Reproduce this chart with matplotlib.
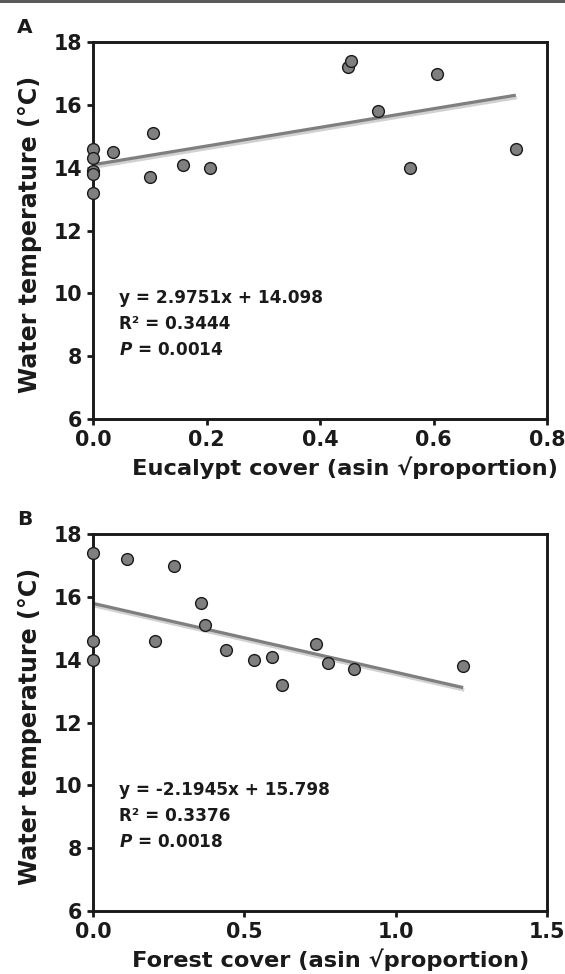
import matplotlib
matplotlib.use("Agg")

import matplotlib.pyplot as plt
import matplotlib.patheffects as pe
import numpy as np

plt.rcParams["font.family"] = ["DejaVu Sans"]
plt.rcParams["font.weight"] = "bold"
plt.rcParams["axes.labelweight"] = "bold"
plt.rcParams["mathtext.fontset"] = "custom"
plt.rcParams["mathtext.it"] = "DejaVu Sans:italic:bold"
plt.rcParams["mathtext.rm"] = "DejaVu Sans:bold"

# panel A: eucalypt cover
eu_x = [0.0, 0.0, 0.0, 0.0, 0.0, 0.036, 0.100, 0.106, 0.159, 0.206,
        0.450, 0.454, 0.503, 0.558, 0.607, 0.745]
eu_y = [14.6, 14.3, 13.9, 13.8, 13.2, 14.5, 13.7, 15.1, 14.1, 14.0,
        17.2, 17.4, 15.8, 14.0, 17.0, 14.6]
eu_fit = [2.9751, 14.098]
eu_txt = ["y = 2.9751x + 14.098", "R\u00b2 = 0.3444", "$P$ = 0.0014"]
eu_ticks = [0.0, 0.2, 0.4, 0.6, 0.8]

# panel B: forest cover
fo_x = [0.0, 0.0, 0.0, 0.113, 0.268, 0.205, 0.357, 0.369, 0.440, 0.533,
        0.592, 0.624, 0.736, 0.776, 0.862, 1.223]
fo_y = [17.4, 14.6, 14.0, 17.2, 17.0, 14.6, 15.8, 15.1, 14.3, 14.0,
        14.1, 13.2, 14.5, 13.9, 13.7, 13.8]
fo_fit = [-2.1945, 15.798]
fo_txt = ["y = -2.1945x + 15.798", "R\u00b2 = 0.3376", "$P$ = 0.0018"]
fo_ticks = [0.0, 0.5, 1.0, 1.5]

y_ticks = [6, 8, 10, 12, 14, 16, 18]

W, H = 565, 974
k = "#1a1a1a"
gr = "#7f7f7f"

fig = plt.figure(figsize=(W / 100, H / 100), dpi=100)
fig.add_artist(plt.Rectangle((0, 1 - 3 / H), 1, 3 / H, transform=fig.transFigure,
                             color="#5a5a5a", lw=0))

def panel(top, xs, ys, fit, txt, xt, xlab, letter):
    l, r, b = 93, 547, top + 376.5
    ax = fig.add_axes([l / W, 1 - b / H, (r - l) / W, (b - top) / H])

    xx = np.array([0.0, max(xs)])
    ax.plot(xx, fit[0] * xx + fit[1], color=gr, lw=2.3, solid_capstyle="butt", zorder=2,
            path_effects=[pe.SimpleLineShadow(offset=(0.8, -1.8), shadow_color="#000000",
                                              alpha=0.18), pe.Normal()])
    ax.scatter(xs, ys, s=72, facecolor=gr, edgecolor=k, linewidth=1.0,
               zorder=4, clip_on=False)

    ax.set_xlim(xt[0], xt[-1])
    ax.set_ylim(6, 18)
    ax.set_xticks(xt)
    ax.set_xticklabels([f"{v:.1f}" for v in xt])
    ax.set_yticks(y_ticks)
    ax.tick_params(axis="both", direction="out", length=4.5, width=2, color=k,
                   labelsize=14.9, labelcolor=k, pad=3.5)
    for s in ax.spines.values():
        s.set_linewidth(2.1)
        s.set_color(k)

    for i, t in enumerate(txt):
        ax.text((119 - l) / (r - l), (b - (298 + 26 * i + (top - 42.3))) / (b - top), t,
                transform=ax.transAxes, fontsize=12.2, color=k, ha="left", va="center",
                fontweight="bold")

    ax.set_xlabel(xlab, fontsize=16.2, color=k, ha="left", va="center", fontweight="bold")
    ax.xaxis.set_label_coords((132 - l) / (r - l), -49 / (b - top))
    ax.set_ylabel("Water temperature (\u00b0C)", fontsize=17.1, color=k, va="center",
                  fontweight="bold")
    ax.yaxis.set_label_coords((30 - l) / (r - l), 0.49)

    fig.text(17 / W, 1 - (top - 24) / H, letter, fontsize=14.5, color=k,
             ha="left", va="top", fontweight="heavy")
    return ax

panel(42.3, eu_x, eu_y, eu_fit, eu_txt, eu_ticks,
      "Eucalypt cover (asin \u221aproportion)", "A")
panel(534.3, fo_x, fo_y, fo_fit, fo_txt, fo_ticks,
      "Forest cover (asin \u221aproportion)", "B")

fig.savefig("out.png", dpi=100)
plt.close(fig)
